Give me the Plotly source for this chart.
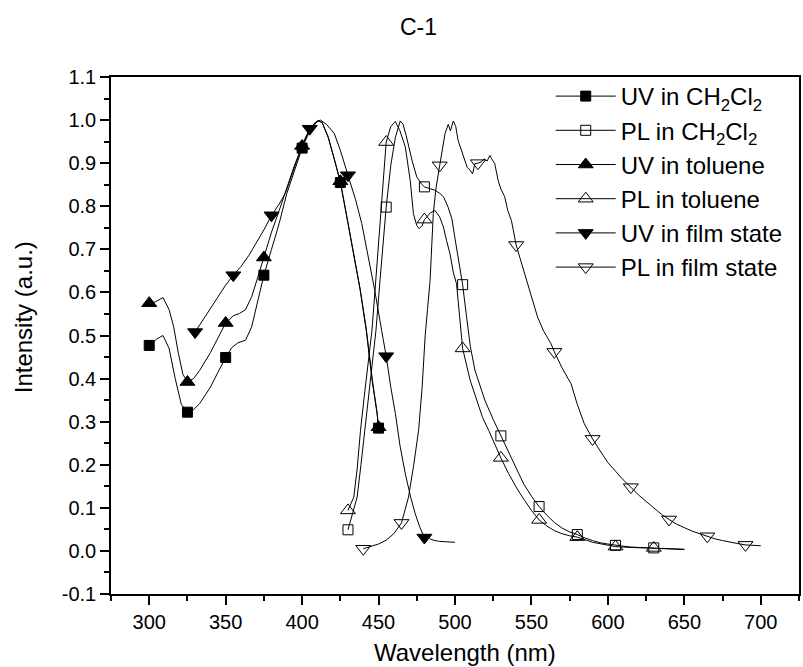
import plotly.graph_objects as go

# ---------------- data ----------------
uv_ch2cl2_x = [300, 305, 309, 313, 317, 321, 325, 329, 333, 340, 345, 350, 354, 358, 363, 367, 371, 375,
               380, 385, 390, 395, 400, 405, 410, 413, 417, 421, 425, 430, 434, 438, 442, 446, 449, 450]
uv_ch2cl2_y = [0.477, 0.492, 0.500, 0.470, 0.400, 0.340, 0.322, 0.328, 0.342, 0.380, 0.415, 0.449, 0.472, 0.483,
               0.489, 0.520, 0.580, 0.640, 0.700, 0.760, 0.830, 0.885, 0.935, 0.975, 0.998, 0.995, 0.960, 0.910,
               0.855, 0.760, 0.680, 0.605, 0.510, 0.390, 0.320, 0.285]

uv_tol_x = [300, 304, 309, 313, 316, 319, 322, 325, 329, 333, 340, 345, 350, 355, 359, 363, 367, 371, 375,
            380, 385, 390, 395, 400, 405, 410, 413, 417, 421, 425, 430, 434, 438, 442, 446, 449, 450]
uv_tol_y = [0.575, 0.578, 0.588, 0.560, 0.520, 0.460, 0.410, 0.392, 0.400, 0.419, 0.460, 0.495, 0.529, 0.546,
            0.551, 0.560, 0.590, 0.635, 0.681, 0.740, 0.790, 0.845, 0.895, 0.940, 0.978, 0.998, 0.995, 0.962,
            0.912, 0.858, 0.762, 0.685, 0.607, 0.515, 0.395, 0.322, 0.287]

uv_film_x = [330, 335, 340, 345, 350, 355, 360, 365, 370, 375, 380, 385, 389, 393, 397, 401, 405, 409, 412,
             416, 421, 425, 430, 435, 439, 443, 447.5, 452, 455, 458, 461, 464, 467.5, 471, 474, 477, 480,
             482, 484, 487, 490, 495, 500]
uv_film_y = [0.508, 0.535, 0.563, 0.590, 0.617, 0.640, 0.660, 0.685, 0.715, 0.745, 0.779, 0.805, 0.830, 0.870,
             0.915, 0.950, 0.980, 0.996, 1.000, 0.990, 0.969, 0.930, 0.872, 0.815, 0.760, 0.690, 0.605, 0.512,
             0.452, 0.380, 0.319, 0.245, 0.179, 0.125, 0.086, 0.055, 0.031, 0.035, 0.027, 0.024, 0.022, 0.021,
             0.020]

pl_ch2cl2_x = [430, 433, 436, 438.5, 441, 444, 446, 448.3, 451, 453, 455, 458, 461, 464.2, 466, 468, 470, 472,
               475, 478, 480, 484, 487, 490, 492.5, 495.5, 498, 500, 503, 505, 507.5, 510, 513, 516, 519.5,
               525, 530, 535, 540, 545, 550, 555, 560, 565, 570, 575, 580, 585, 590, 595, 600, 605, 610, 615,
               620, 630, 640, 650]
pl_ch2cl2_y = [0.049, 0.085, 0.125, 0.200, 0.280, 0.375, 0.440, 0.512, 0.630, 0.715, 0.798, 0.895, 0.960,
               0.998, 0.990, 0.965, 0.935, 0.905, 0.868, 0.852, 0.845, 0.840, 0.837, 0.830, 0.822, 0.798, 0.770,
               0.725, 0.660, 0.618, 0.545, 0.475, 0.420, 0.385, 0.350, 0.305, 0.267, 0.228, 0.190, 0.155, 0.127,
               0.103, 0.083, 0.066, 0.053, 0.044, 0.038, 0.030, 0.024, 0.019, 0.016, 0.013, 0.011, 0.009, 0.008,
               0.007, 0.004, 0.003]

pl_tol_x = [430, 433.8, 436, 438.2, 441, 443.5, 445.7, 448, 450, 452, 454, 455, 458, 461, 464, 467.5, 470.7,
            472.8, 475, 476.6, 478.5, 480, 484, 487, 490, 492.4, 494.5, 496.7, 499, 501, 503, 505, 510, 514,
            518, 522, 526, 530, 535, 540, 545, 550, 555, 560, 565, 570, 575, 580, 590, 600, 605, 615, 630,
            640, 650]
pl_tol_y = [0.094, 0.125, 0.190, 0.280, 0.370, 0.440, 0.512, 0.620, 0.710, 0.800, 0.885, 0.949, 0.985, 0.997,
            0.975, 0.938, 0.860, 0.783, 0.755, 0.748, 0.755, 0.769, 0.785, 0.790, 0.775, 0.752, 0.720, 0.690,
            0.645, 0.620, 0.545, 0.470, 0.395, 0.350, 0.310, 0.280, 0.247, 0.216, 0.180, 0.148, 0.120, 0.094,
            0.072, 0.058, 0.047, 0.040, 0.035, 0.032, 0.020, 0.013, 0.010, 0.008, 0.007, 0.005, 0.004]

pl_film_x = [440, 445, 450, 455, 460, 465, 469.6, 473, 476.2, 478.5, 480.5, 482, 483.7, 485.8, 487.5, 490,
             491.5, 493.5, 495.6, 497, 498.9, 500.5, 502, 504.3, 506, 508, 509.8, 511.5, 513, 515, 517.3, 519,
             521, 522.8, 524, 526, 528.2, 530, 532.5, 534.5, 536.9, 540, 542.5, 545.5, 547.5, 550.5, 554, 558,
             562.8, 565, 570, 575.9, 580, 584.6, 590, 595, 600, 605, 610, 615, 620, 625, 630, 635, 640, 645,
             650, 655, 660, 665, 670, 675, 680, 685, 690, 695, 700]
pl_film_y = [0.005, 0.010, 0.016, 0.025, 0.040, 0.065, 0.125, 0.200, 0.280, 0.380, 0.500, 0.560, 0.628, 0.783,
             0.840, 0.895, 0.930, 0.969, 0.990, 0.975, 0.998, 0.985, 0.953, 0.930, 0.915, 0.890, 0.884, 0.875,
             0.899, 0.900, 0.903, 0.910, 0.905, 0.918, 0.910, 0.899, 0.860, 0.840, 0.822, 0.790, 0.767, 0.710,
             0.680, 0.644, 0.620, 0.580, 0.543, 0.510, 0.481, 0.462, 0.425, 0.388, 0.340, 0.295, 0.260, 0.232,
             0.205, 0.185, 0.165, 0.148, 0.130, 0.115, 0.100, 0.085, 0.073, 0.062, 0.054, 0.046, 0.040, 0.034,
             0.028, 0.024, 0.020, 0.017, 0.014, 0.013, 0.012]

# wavelengths carrying a symbol
uv_marks = [300, 325, 350, 375, 400, 425, 450]
uv_film_marks = [330, 355, 380, 405, 430, 455, 480]
pl_sol_marks = [430, 455, 480, 505, 530, 555, 580, 605, 630]
pl_film_marks = [440, 465, 490, 515, 540, 565, 590, 615, 640, 665, 690]

series_names = ["UV in CH<sub>2</sub>Cl<sub>2</sub>", "PL in CH<sub>2</sub>Cl<sub>2</sub>",
                "UV in toluene", "PL in toluene", "UV in film state", "PL in film state"]

y_tick_vals = [-0.1, 0.0, 0.1, 0.2, 0.3, 0.4, 0.5, 0.6, 0.7, 0.8, 0.9, 1.0, 1.1]
y_tick_text = ["-0.1", "0.0", "0.1", "0.2", "0.3", "0.4", "0.5", "0.6", "0.7", "0.8", "0.9", "1.0", "1.1"]
x_tick_vals = [300, 350, 400, 450, 500, 550, 600, 650, 700]

# ---------------- figure ----------------
FONT = "Liberation Sans, Arial, Helvetica, sans-serif"
fig = go.Figure()

series = [
    (uv_ch2cl2_x, uv_ch2cl2_y, uv_marks, "square", 10),
    (pl_ch2cl2_x, pl_ch2cl2_y, pl_sol_marks, "square-open", 10),
    (uv_tol_x, uv_tol_y, uv_marks, "triangle-up", 13),
    (pl_tol_x, pl_tol_y, pl_sol_marks, "triangle-up-open", 13),
    (uv_film_x, uv_film_y, uv_film_marks, "triangle-down", 13),
    (pl_film_x, pl_film_y, pl_film_marks, "triangle-down-open", 13),
]

for (xs, ys, marks, sym, size), name in zip(series, series_names):
    fig.add_trace(go.Scatter(x=xs, y=ys, mode="lines", line=dict(color="black", width=1),
                             showlegend=False, hoverinfo="skip"))
    lookup = dict(zip(xs, ys))
    mx = [m for m in marks if m in lookup]
    my = [lookup[m] for m in mx]
    fig.add_trace(go.Scatter(x=mx, y=my, mode="markers", showlegend=False,
                             marker=dict(symbol=sym, size=size, color="black",
                                         line=dict(color="black", width=1))))
    fig.add_trace(go.Scatter(x=[None], y=[None], mode="lines+markers", name=name,
                             line=dict(color="black", width=1),
                             marker=dict(symbol=sym, size=size, color="black",
                                         line=dict(color="black", width=1))))

axis_common = dict(showline=True, linecolor="black", linewidth=1.5, mirror=True,
                   ticks="outside", ticklen=9, tickwidth=1.5, tickcolor="black",
                   showgrid=False, zeroline=False,
                   tickfont=dict(family=FONT, size=20, color="black"))

fig.update_xaxes(range=[275, 725], tickvals=x_tick_vals,
                 minor=dict(dtick=25, tick0=275, ticks="outside", ticklen=5, tickwidth=1.5,
                            tickcolor="black"),
                 **axis_common)
fig.update_yaxes(range=[-0.1, 1.1], tickvals=y_tick_vals, ticktext=y_tick_text,
                 minor=dict(dtick=0.05, tick0=0, ticks="outside", ticklen=5, tickwidth=1.5,
                            tickcolor="black"),
                 **axis_common)

W, H = 803, 667
L, R, T, B = 111, 2, 77, 73

def px_x(p):
    return (p - L) / (W - L - R)

def px_y(p):
    return (H - B - p) / (H - T - B)

fig.update_layout(
    width=W, height=H,
    margin=dict(l=L, r=R, t=T, b=B),
    paper_bgcolor="white", plot_bgcolor="white",
    font=dict(family=FONT, color="black"),
    showlegend=True,
    legend=dict(x=px_x(552), y=px_y(74), xanchor="left", yanchor="top",
                bgcolor="rgba(0,0,0,0)", borderwidth=0,
                font=dict(family=FONT, size=24, color="black"),
                itemwidth=60, tracegroupgap=0),
    annotations=[
        dict(text="C-1", x=px_x(419), y=px_y(27), xref="paper", yref="paper",
             showarrow=False, font=dict(family=FONT, size=23, color="black"),
             xanchor="center", yanchor="middle"),
        dict(text="Wavelength (nm)", x=px_x(466), y=px_y(652), xref="paper", yref="paper",
             showarrow=False, font=dict(family=FONT, size=24, color="black"),
             xanchor="center", yanchor="middle"),
        dict(text="Intensity (a.u.)", x=px_x(23), y=px_y(317), xref="paper", yref="paper",
             showarrow=False, textangle=-90, font=dict(family=FONT, size=24, color="black"),
             xanchor="center", yanchor="middle"),
    ],
)

fig.write_html("out.html")
